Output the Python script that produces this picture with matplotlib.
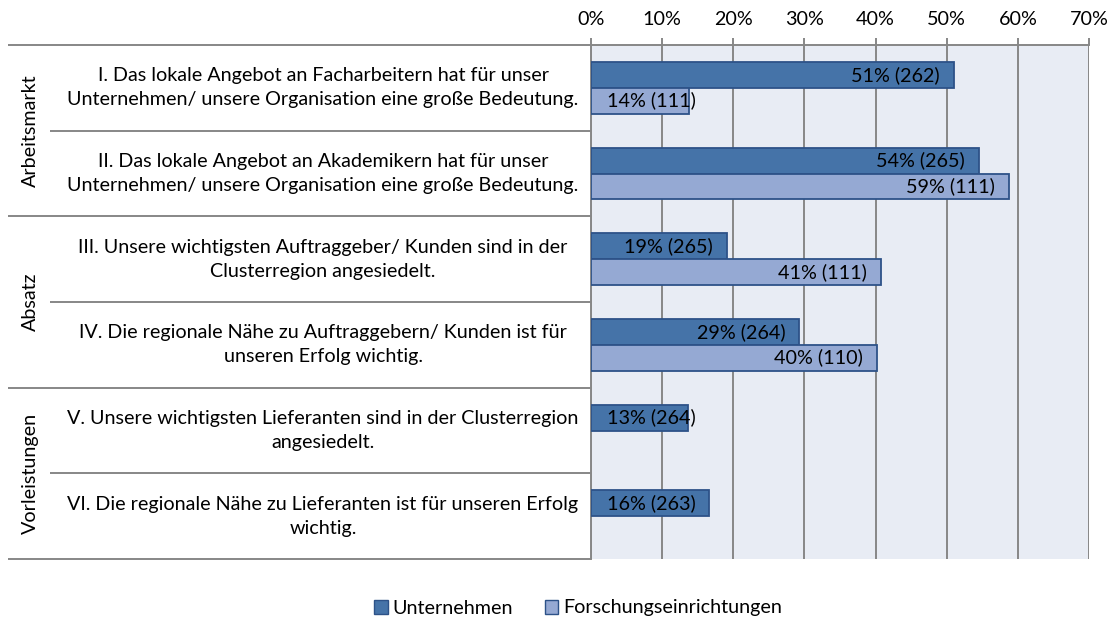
import matplotlib
matplotlib.use("Agg")
import matplotlib.pyplot as plt
from matplotlib.patches import Patch
import numpy as np

# ---------------- data ----------------
statements = [
    "I. Das lokale Angebot an Facharbeitern hat für unser\nUnternehmen/ unsere Organisation eine große Bedeutung.",
    "II. Das lokale Angebot an Akademikern hat für unser\nUnternehmen/ unsere Organisation eine große Bedeutung.",
    "III. Unsere wichtigsten Auftraggeber/ Kunden sind in der\nClusterregion angesiedelt.",
    "IV. Die regionale Nähe zu Auftraggebern/ Kunden ist für\nunseren Erfolg wichtig.",
    "V. Unsere wichtigsten Lieferanten sind in der Clusterregion\nangesiedelt.",
    "VI. Die regionale Nähe zu Lieferanten ist für unseren Erfolg\nwichtig.",
]
groups = ["Arbeitsmarkt", "Absatz", "Vorleistungen"]
group_rows = [(0, 1), (2, 3), (4, 5)]

series_names = ["Unternehmen", "Forschungseinrichtungen"]
unternehmen_vals = [51.0, 54.6, 19.1, 29.3, 13.6, 16.6]
unternehmen_labels = ["51% (262)", "54% (265)", "19% (265)", "29% (264)", "13% (264)", "16% (263)"]
forschung_vals = [13.8, 58.8, 40.8, 40.2]
forschung_labels = ["14% (111)", "59% (111)", "41% (111)", "40% (110)"]

xticks = [0, 10, 20, 30, 40, 50, 60, 70]
xtick_labels = ["0%", "10%", "20%", "30%", "40%", "50%", "60%", "70%"]

# ---------------- style ----------------
FONT = "Lato"
plt.rcParams["font.family"] = [FONT, "DejaVu Sans"]
C_U = "#4573A8"
C_F = "#95A9D3"
C_EDGE = "#2D5288"
C_GRID = "#878787"
C_BG = "#E8ECF4"
FS = 14.2

W, H = 1115, 620
fig = plt.figure(figsize=(W / 100, H / 100), dpi=100)


def px(x0, y0, x1, y1):
    return [x0 / W, 1 - y1 / H, (x1 - x0) / W, (y1 - y0) / H]


TOP, BOT = 45, 559
ax = fig.add_axes(px(591, TOP, 1089, BOT))
ax.set_xlim(0, 70)
ax.set_ylim(5.5, -0.5)
ax.set_facecolor(C_BG)

n = len(statements)
y = np.arange(n)
bh = 0.3
ax.barh(y - bh / 2, unternehmen_vals, height=bh, color=C_U, edgecolor=C_EDGE, lw=1.3, zorder=3)
yf = np.arange(len(forschung_vals))
ax.barh(yf + bh / 2, forschung_vals, height=bh, color=C_F, edgecolor=C_EDGE, lw=1.3, zorder=3)


def put_label(v, yy, s):
    if v < 17.0:
        ax.text(2.2, yy, s, ha="left", va="center", fontsize=FS, color="black", zorder=4)
    else:
        ax.text(v - 2.0, yy, s, ha="right", va="center", fontsize=FS, color="black", zorder=4)


for v, yy, s in zip(unternehmen_vals, y - bh / 2, unternehmen_labels):
    put_label(v, yy, s)
for v, yy, s in zip(forschung_vals, yf + bh / 2, forschung_labels):
    put_label(v, yy, s)

ax.set_xticks(xticks)
ax.set_xticklabels(xtick_labels)
ax.xaxis.tick_top()
ax.tick_params(axis="x", top=True, bottom=False, labeltop=True, labelbottom=False,
               length=5, width=1.4, color=C_GRID, labelsize=FS, pad=7)
ax.set_yticks([])
ax.grid(axis="x", color=C_GRID, lw=1.4, zorder=1)
ax.set_axisbelow(True)
for sp in ["bottom", "right"]:
    ax.spines[sp].set_visible(False)
for sp in ["left", "top"]:
    ax.spines[sp].set_color(C_GRID)
    ax.spines[sp].set_linewidth(1.4)

# ---------------- left table ----------------
axL = fig.add_axes(px(8, TOP, 591, BOT))
axL.set_xlim(0, 583)
axL.set_ylim(5.5, -0.5)
axL.axis("off")
for b in np.arange(-0.5, n, 1.0):
    full = (b + 0.5) % 2 == 0
    x0 = 0 if full else 42
    axL.plot([x0, 583], [b, b], color=C_GRID, lw=1.4, solid_capstyle="butt", clip_on=False)

for i, s in enumerate(statements):
    axL.text(315, i, s, ha="center", va="center", fontsize=FS, linespacing=1.5)

for g, (a, b) in zip(groups, group_rows):
    axL.text(22, (a + b) / 2, g, rotation=90, ha="center", va="center", fontsize=FS)

# ---------------- legend ----------------
handles = [Patch(facecolor=C_U, edgecolor=C_EDGE, lw=1.0),
           Patch(facecolor=C_F, edgecolor=C_EDGE, lw=1.0)]
fig.legend(handles, series_names, loc="center", bbox_to_anchor=(578 / W, 1 - 608 / H),
           ncol=2, frameon=False, handlelength=0.7, handleheight=0.7,
           handletextpad=0.25, columnspacing=1.6, fontsize=FS)

fig.savefig("out.png", dpi=100)
